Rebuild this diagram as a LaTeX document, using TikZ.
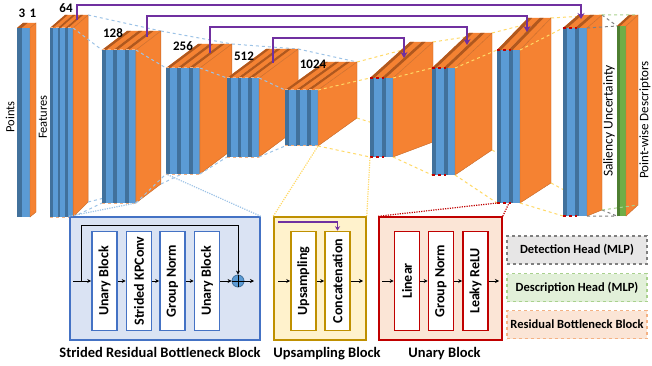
\documentclass[tikz,border=0pt]{standalone}
\usepackage{fontspec}
\setmainfont{Carlito}
\usetikzlibrary{arrows.meta,positioning}
\definecolor{slabblue}{HTML}{5B9BD5}
\definecolor{slabdark}{HTML}{41719C}
\definecolor{plate}{HTML}{F58232}
\definecolor{ridge}{HTML}{B0581E}
\definecolor{slabgreen}{HTML}{70AD47}
\definecolor{greendark}{HTML}{4E7F31}
\definecolor{encline}{HTML}{9DC3E6}
\definecolor{decline}{HTML}{FFD966}
\definecolor{skip}{HTML}{7030A0}
\definecolor{boxblue}{HTML}{4472C4}
\definecolor{boxbluefill}{HTML}{DAE3F3}
\definecolor{boxgold}{HTML}{BF9000}
\definecolor{boxgoldfill}{HTML}{FFF2CC}
\definecolor{boxred}{HTML}{C00000}
\definecolor{boxredfill}{HTML}{FBE5D6}
\definecolor{detgray}{HTML}{7F7F7F}
\definecolor{detfill}{HTML}{E7E6E6}
\definecolor{descgreen}{HTML}{A9D18E}
\definecolor{descfill}{HTML}{E2F0D9}
\definecolor{resorange}{HTML}{F4B183}

% index/x/slabs/width/top/bottom/depth top/depth bottom/front/shade/link
\def\layers{0/17/1/13/28/217/6/-5/6/-5/slabblue/slabdark/nolink,
  1/50/3/7.7/28/217/15/-13/15/-15/slabblue/slabdark/nolink,
  2/102/3/11.3/50/203/25/-19/25/-19/slabblue/slabdark/enclink,
  3/166/3/11.3/68/174/32/-24/32/-24/slabblue/slabdark/enclink,
  4/227/3/10.7/78/157/39/-29/39/-29/slabblue/slabdark/enclink,
  5/285/3/11/90/146/39/-28/39/-28/slabblue/slabdark/enclink,
  6/370/2/11.5/78/157/40/-36/40/-15/slabblue/slabdark/declink,
  7/432/2/11.5/68/175/37/-35/37/-25/slabblue/slabdark/declink,
  8/497/2/11.5/50/203/31/-32/31/-20/slabblue/slabdark/declink,
  9/563/2/12/28/216/15/-13/15/-6/slabblue/slabdark/declink,
  10/617/1/9/26/216/12/-11/12/-11/slabgreen/greendark/nolink}

\begin{document}
\begin{tikzpicture}[x=1pt,y=-1pt,
    lbl/.style={font=\fontsize{13}{15}\selectfont\bfseries, inner sep=0pt},
    side/.style={font=\fontsize{12.5}{14}\selectfont, rotate=90, inner sep=0pt},
    enclink/.style={draw=encline, dashed, line width=1pt},
    declink/.style={draw=decline, dashed, line width=1pt},
    nolink/.style={draw=none},
    resmark/.style={resorange, dashed, line width=1pt},
    unarymark/.style={boxred, dashed, line width=1.2pt},
    skiparrow/.style={skip, line width=1.4pt, -{Stealth[length=6pt,width=7pt]}},
    outerbox/.style={line width=1.5pt, minimum height=123pt},
    innerbox/.style={rotate=90, draw=#1, fill=white, line width=1.6pt, minimum width=99pt,
      minimum height=25pt, inner sep=0pt, font=\fontsize{14}{16}\selectfont\bfseries},
    flow/.style={line width=1pt, -{Stealth[length=4pt,width=4pt]}},
    proj/.style={line width=1.2pt, dash pattern=on 1.2pt off 1.2pt},
    legend/.style={dashed, line width=1.2pt, minimum width=140pt, minimum height=28pt,
      font=\fontsize{12.5}{14}\selectfont\bfseries},
    title/.style={font=\fontsize{14.5}{16}\selectfont\bfseries, inner sep=0pt}]
\useasboundingbox (0,0) rectangle (652,366);

% corner points of every layer
\foreach \i/\xb/\n/\w/\yt/\yb/\dxt/\dyt/\dxb/\dyb/\fc/\dc/\lk in \layers {
  \pgfmathsetmacro\xr{\xb+\n*\w}
  \coordinate (tl\i) at (\xb,\yt);
  \coordinate (bl\i) at (\xb,\yb);
  \coordinate (tr\i) at (\xr,\yt);
  \coordinate (br\i) at (\xr,\yb);
  \coordinate (ot\i) at (\xr+\dxt,\yt+\dyt);
  \coordinate (ob\i) at (\xr+\dxb,\yb+\dyb);
}

% layers, each with the frustum lines from the one before
\foreach \i/\xb/\n/\w/\yt/\yb/\dxt/\dyt/\dxb/\dyb/\fc/\dc/\lk in \layers {
  \ifnum\i>0
    \pgfmathtruncatemacro\p{\i-1}
    \draw[\lk] (tr\p) -- (tl\i) (ot\p) -- (ot\i) (br\p) -- (bl\i) (ob\p) -- (ob\i);
  \fi
  \foreach \j in {1,...,\n} {
    \pgfmathsetmacro\xa{\xb+(\j-1)*\w}
    \fill[plate] (\xa,\yt) -- ++(\w,0) -- ++(\dxt,\dyt) -- ++(-\w,0) -- cycle;
    \fill[ridge] (\xa,\yt) -- ++(0.35*\w,0) -- ++(\dxt,\dyt) -- ++(-0.35*\w,0) -- cycle;
    \fill[\dc] (\xa,\yt) rectangle (\xa+0.35*\w,\yb);
    \fill[\fc] (\xa+0.35*\w,\yt) rectangle (\xa+\w,\yb);
  }
  \filldraw[fill=plate, draw=plate!80!black, line width=0.4pt]
    (tr\i) -- (ot\i) -- (ob\i) -- (br\i) -- cycle;
}

% heads
\draw[detgray, dashed, line width=1pt] (tr9) -- (tl10) (ot9) -- (tl10) (br9) -- (bl10) (ob9) -- (bl10);
\draw[descgreen, dashed, line width=1pt] (ot9) -- (ot10) (ob9) -- (ob10);

% block marks on the slabs
\foreach \i in {1,...,5} \draw[resmark] (tl\i) -- (tr\i) (bl\i) -- (br\i);
\foreach \i in {6,...,9} \draw[unarymark] (tl\i) -- ++(14,0) (bl\i) -- ++(14,0);

% skip connections
\foreach \xa/\ya/\yh/\xe/\ye in {77/20/5/581/19, 147/37/16/527/32, 210/53/27/467/45, 273/63/38/404/58}
  \draw[skiparrow] (\xa,\ya) -- (\xa,\yh) -- (\xe,\yh) -- (\xe,\ye);

% labels
\node[lbl] (n3) at (22,13) {3};
\node[lbl] (n1) at (33,13) {1};
\node[lbl] (n64) at (66,8) {64};
\node[lbl] (n128) at (113,33) {128};
\node[lbl] (n256) at (183,46) {256};
\node[lbl] (n512) at (244,56) {512};
\node[lbl] (n1024) at (313,64) {1024};
\node[side] (pts) at (10,117) {Points};
\node[side] (fts) at (43,117) {Features};
\node[side, font=\fontsize{13.5}{15}\selectfont] (sal) at (609,121) {Saliency Uncertainty};
\node[side, font=\fontsize{13}{15}\selectfont] (pwd) at (645,120) {Point-wise Descriptors};

% strided residual bottleneck block
\node[outerbox, draw=boxblue, fill=boxbluefill, minimum width=190pt] (srbb) at (165,278.5) {};
\node[innerbox=boxblue] (ua) at (104.5,281) {Unary Block};
\node[innerbox=boxblue] (kp) at (139,281) {Strided KPConv};
\node[innerbox=boxblue] (gna) at (172.5,281) {Group Norm};
\node[innerbox=boxblue] (ub) at (207,281) {Unary Block};
\node[circle, draw=slabdark, fill=slabblue, line width=0.8pt, minimum size=12pt, inner sep=0pt] (sum) at (238,281) {};
\draw[line width=0.8pt] (sum.north) -- (sum.south) (sum.west) -- (sum.east);
\coordinate (sin) at (73,281);
\coordinate (sk) at (81,281);
\coordinate (sout) at (254,281);
\draw[flow] (sin) -- (ua);
\draw[flow] (ua) -- (kp);
\draw[flow] (kp) -- (gna);
\draw[flow] (gna) -- (ub);
\draw[flow] (ub) -- (sum);
\draw[flow] (sum) -- (sout);
\draw[flow] (sk) -- ++(0,-56) -| (sum);
\node[title, below=6pt of srbb, xshift=-5pt] (tsr) {Strided Residual Bottleneck Block};

% upsampling block
\node[outerbox, draw=boxgold, fill=boxgoldfill, minimum width=92pt] (upb) at (320,278.5) {};
\node[innerbox=boxgold] (ups) at (303.5,281) {Upsampling};
\node[innerbox=boxgold] (cat) at (337.5,281) {Concatenation};
\coordinate (uin) at (278,281);
\coordinate (uout) at (363,281);
\coordinate (uskip) at (278,222);
\draw[flow] (uin) -- (ups);
\draw[flow] (ups) -- (cat);
\draw[flow] (cat) -- (uout);
\draw[skip, line width=1.2pt, -{Stealth[length=4.5pt,width=5pt]}] (uskip) -| (cat);
\node[title, below=6pt of upb, xshift=7pt] (tup) {Upsampling Block};

% unary block
\node[outerbox, draw=boxred, fill=boxredfill, minimum width=123pt] (unb) at (440.5,278.5) {};
\node[innerbox=boxred] (lin) at (407,281) {Linear};
\node[innerbox=boxred] (gnb) at (441,281) {Group Norm};
\node[innerbox=boxred] (lrelu) at (475.5,281) {Leaky ReLU};
\coordinate (nin) at (382,281);
\coordinate (nout) at (499,281);
\draw[flow] (nin) -- (lin);
\draw[flow] (lin) -- (gnb);
\draw[flow] (gnb) -- (lrelu);
\draw[flow] (lrelu) -- (nout);
\node[title, below=6pt of unb, xshift=4pt] (tun) {Unary Block};

% where the blocks sit in the network
\draw[proj, encline] (srbb.north west) -- (br2) (srbb.north east) -- (bl3);
\draw[proj, decline] (upb.north west) -- (br5) (upb.north east) -- (bl6);
\draw[proj, boxred] (unb.north west) -- (bl8) (unb.north east) -- ([xshift=12pt]bl8);

% legend
\node[legend, draw=detgray, fill=detfill] (det) at (577,250) {Detection Head (MLP)};
\node[legend, draw=descgreen, fill=descfill] (desc) at (577,287.5) {Description Head (MLP)};
\node[legend, draw=resorange, fill=boxredfill] (res) at (577,324.5) {Residual Bottleneck Block};
\end{tikzpicture}
\end{document}
